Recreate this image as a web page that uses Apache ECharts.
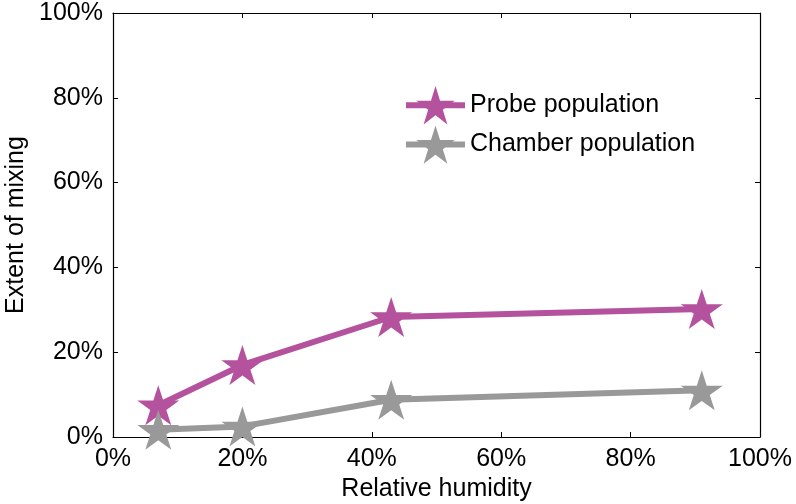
<!DOCTYPE html>
<html><head><meta charset="utf-8">
<script src="https://cdn.jsdelivr.net/npm/echarts@6/dist/echarts.min.js"></script>
<style>html,body{margin:0;padding:0;background:#fff}#c{width:796px;height:504px}</style>
</head><body><div id="c"></div>
<script>
const humidity = [7, 20, 43, 91];
const probe = [7.5, 17, 28.3, 30.2];
const chamber = [1.7, 2.5, 8.8, 11];
const seriesNames = ['Probe population', 'Chamber population'];
const ticks = [0, 20, 40, 60, 80, 100];

const star = 'path://M100,0 L122.45,69.1 L195.1,69.1 L136.3,111.8 L158.8,180.9 L100,138.2 L41.2,180.9 L63.7,111.8 L4.9,69.1 L77.55,69.1 Z';
const font = 'Liberation Sans, Arial, sans-serif';
const pct = v => v + '%';
const chart = echarts.init(document.getElementById('c'));
const axisBase = () => ({
  type: 'value', min: 0, max: 100, interval: 20,
  axisLine: {show: true, onZero: false, lineStyle: {color: '#000', width: 1.2}},
  axisTick: {show: true, inside: true, length: 5, lineStyle: {color: '#000'}},
  splitLine: {show: false}
});
const nameStyle = {fontFamily: font, fontSize: 25, color: '#000'};
const labelStyle = {formatter: pct, fontFamily: font, fontSize: 25, color: '#000', margin: 10};
chart.setOption({
  animation: false,
  grid: {left: 113, right: 36, top: 13, bottom: 67, containLabel: false, outerBoundsMode: 'none'},
  legend: {
    left: 398, top: 81, orient: 'vertical', itemWidth: 59, itemHeight: 48, itemGap: 1,
    lineStyle: {width: 6},
    textStyle: {fontFamily: font, fontSize: 25, color: '#000'},
    data: seriesNames
  },
  xAxis: [
    Object.assign(axisBase(), {position: 'bottom',
      name: 'Relative humidity', nameLocation: 'middle', nameGap: 36,
      nameTextStyle: nameStyle, axisLabel: labelStyle}),
    Object.assign(axisBase(), {position: 'top', axisLabel: {show: false}})
  ],
  yAxis: [
    Object.assign(axisBase(), {position: 'left',
      name: 'Extent of mixing', nameLocation: 'middle', nameGap: 84,
      nameTextStyle: nameStyle, axisLabel: labelStyle}),
    Object.assign(axisBase(), {position: 'right', axisLabel: {show: false}})
  ],
  series: [
    {name: seriesNames[0], type: 'line', data: humidity.map((h, i) => [h, probe[i]]),
      symbol: star, symbolSize: [42, 40], itemStyle: {color: '#b5529e'},
      lineStyle: {color: '#b5529e', width: 6}, z: 3},
    {name: seriesNames[1], type: 'line', data: humidity.map((h, i) => [h, chamber[i]]),
      symbol: star, symbolSize: [42, 40], itemStyle: {color: '#999999'},
      lineStyle: {color: '#999999', width: 6}, z: 4}
  ]
});
</script></body></html>
